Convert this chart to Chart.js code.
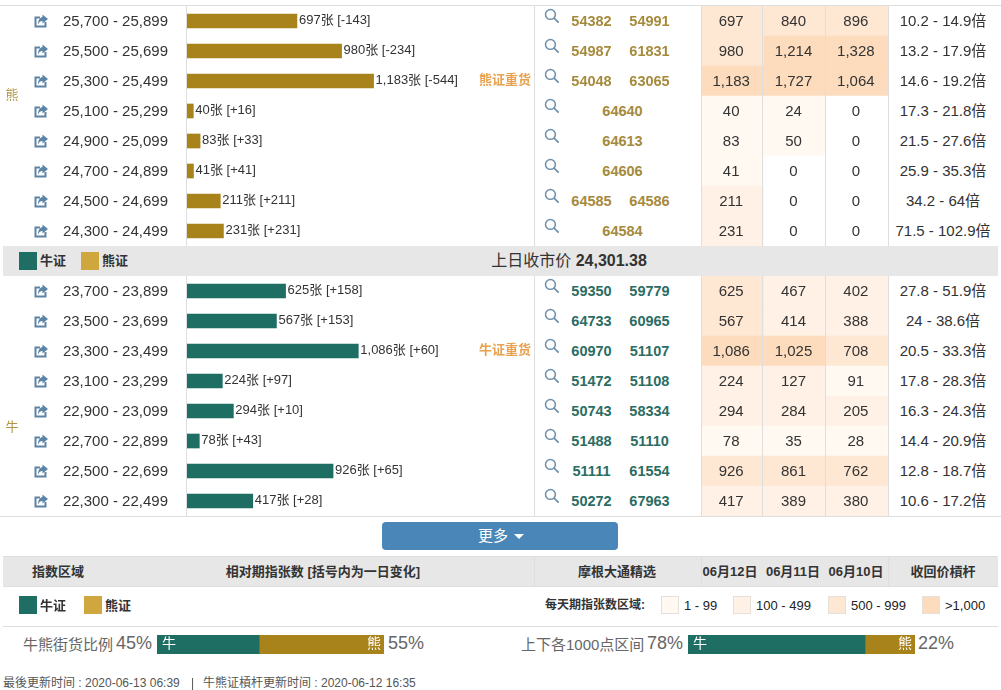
<!DOCTYPE html>
<html lang="zh"><head><meta charset="utf-8">
<script src="https://cdn.jsdelivr.net/npm/chart.js@4/dist/chart.umd.js"></script>
<style>
html,body{margin:0;padding:0;background:#fff;width:1001px;height:690px;overflow:hidden;font-family:"Liberation Sans","Noto Sans CJK SC",sans-serif;color:#333}
#page{position:relative;width:1001px;height:690px;overflow:hidden}
canvas{position:absolute;display:block}
.t{position:absolute;white-space:nowrap;line-height:1}
.b{position:absolute}
svg{position:absolute}
</style></head><body><div id="page">
<canvas id="bars" width="534" height="510" style="left:0;top:6px;width:534px;height:510px"></canvas>
<canvas id="heat" width="187" height="510" style="left:701px;top:6px;width:187px;height:510px"></canvas>
<canvas id="ratioA" width="227" height="19" style="left:157px;top:635px;width:227px;height:19px"></canvas>
<canvas id="ratioB" width="227" height="19" style="left:688px;top:635px;width:227px;height:19px"></canvas>
</div>
<script>
// ---- data ----
const separatorLabel = '上日收市价';
const categories = ['25,700 - 25,899','25,500 - 25,699','25,300 - 25,499','25,100 - 25,299','24,900 - 25,099','24,700 - 24,899','24,500 - 24,699','24,300 - 24,499',separatorLabel,'23,700 - 23,899','23,500 - 23,699','23,300 - 23,499','23,100 - 23,299','22,900 - 23,099','22,700 - 22,899','22,500 - 22,699','22,300 - 22,499'];
const bearCounts = [697,980,1183,40,83,41,211,231,null,null,null,null,null,null,null,null,null];
const bullCounts = [null,null,null,null,null,null,null,null,null,625,567,1086,224,294,78,926,417];
const dayChanges = ['-143','-234','-544','+16','+33','+41','+211','+231',null,'+158','+153','+60','+97','+10','+43','+65','+28'];
const heavyTags = [null,null,'熊证重货',null,null,null,null,null,null,null,null,'牛证重货',null,null,null,null,null];
const warrantCodes = [['54382','54991'],['54987','61831'],['54048','63065'],['64640'],['64613'],['64606'],['64585','64586'],['64584'],null,['59350','59779'],['64733','60965'],['60970','51107'],['51472','51108'],['50743','58334'],['51488','51110'],['51111','61554'],['50272','67963']];
const dayLabels = ['06月12日','06月11日','06月10日'];
const heatJun12 = [697,980,1183,40,83,41,211,231,null,625,567,1086,224,294,78,926,417];
const heatJun11 = [840,1214,1727,24,50,0,0,0,null,467,414,1025,127,284,35,861,389];
const heatJun10 = [896,1328,1064,0,0,0,0,0,null,402,388,708,91,205,28,762,380];
const leverage = ['10.2 - 14.9倍','13.2 - 17.9倍','14.6 - 19.2倍','17.3 - 21.8倍','21.5 - 27.6倍','25.9 - 35.3倍','34.2 - 64倍','71.5 - 102.9倍',null,'27.8 - 51.9倍','24 - 38.6倍','20.5 - 33.3倍','17.8 - 28.3倍','16.3 - 24.3倍','14.4 - 20.9倍','12.8 - 18.7倍','10.6 - 17.2倍'];
const closePrice = '24,301.38';
const streetRatio = [45,55];
const nearRatio = [78,22];
const legendBands = ['1 - 99','100 - 499','500 - 999','>1,000'];
// ---- styles ----
const BULL='#1f6e64', BEAR='#a8821a', BEARKEY='#d0a73f', BULLTXT='#2b6d63', BEARTXT='#a68a3c', ICON='#5c84a6', LINE='#dedede', BAND='#e7e7e7';
const HEAT=['#fff9f2','#fff1e5','#fee7d3','#fddcbd'];
const FONT='"Liberation Sans","Noto Sans CJK SC",sans-serif';
const heatColor=v=>v===null||v===0?'#ffffff':v<100?HEAT[0]:v<500?HEAT[1]:v<1000?HEAT[2]:HEAT[3];
const page=document.getElementById('page');
function box(x,y,w,h,c,extra){const d=document.createElement('div');d.className='b';d.style.cssText=`left:${x}px;top:${y}px;width:${w}px;height:${h}px;background:${c};${extra||''}`;page.appendChild(d);return d;}
function text(s,x,y,size,o){o=o||{};const d=document.createElement('div');d.className='t';d.textContent=s;
 const tr=o.align==='c'?'translate(-50%,-50%)':o.align==='r'?'translate(-100%,-50%)':'translateY(-50%)';
 d.style.cssText=`left:${x}px;top:${y}px;font-size:${size}px;transform:${tr};color:${o.color||'#333'};font-weight:${o.bold?700:400};`;page.appendChild(d);return d;}
const ROW=30, TOP=6, rowMid=i=>TOP+ROW*i+ROW/2;
// ---- bars ----
Chart.defaults.font.family=FONT;
const barLabels={id:'barLabels',afterDatasetsDraw(c){const g=c.ctx,xs=c.scales.x,ys=c.scales.y;g.save();g.textBaseline='middle';
 categories.forEach((_,i)=>{const v=bearCounts[i]??bullCounts[i];if(v==null)return;
  g.font='13px '+FONT;g.fillStyle='#333';g.textAlign='left';
  g.fillText(v.toLocaleString('en-US')+'张 ['+dayChanges[i]+']',xs.getPixelForValue(v)+2,ys.getPixelForValue(i)-1);
  if(heavyTags[i]){g.font='bold 13px '+FONT;g.fillStyle='#e8a24f';g.textAlign='right';g.fillText(heavyTags[i],531,ys.getPixelForValue(i)-1);}
 });g.restore();}};
new Chart('bars',{type:'bar',plugins:[barLabels],data:{labels:categories,datasets:[
 {label:'熊证',data:bearCounts,backgroundColor:BEAR,barThickness:14,stack:'s'},
 {label:'牛证',data:bullCounts,backgroundColor:BULL,barThickness:14,stack:'s'}]},
 options:{indexAxis:'y',responsive:false,animation:false,devicePixelRatio:1,layout:{padding:0},
  plugins:{legend:{display:false},tooltip:{enabled:false}},
  scales:{x:{display:false,min:0,max:2200,stacked:true},
   y:{stacked:true,grid:{display:false,drawTicks:false},border:{display:false},
      afterFit(a){a.width=187;a.paddingTop=0;a.paddingBottom=0;a.paddingLeft=0;a.paddingRight=0;
       if(!a.__nudged){a.__nudged=true;const orig=a._computeLabelItems;
        a._computeLabelItems=function(area){const items=orig.call(this,area);items.forEach(it=>{it.options.translation[1]+=1;});return items;};}},
      ticks:{autoSkip:false,padding:19,color:'#333',font:{size:15},crossAlign:'near',
       callback(v){const l=this.getLabelForValue(v);return l===separatorLabel?'':l;}}}}}});
// ---- heat ----
const heatSeries=[heatJun12,heatJun11,heatJun10];
const heatLabels={id:'heatLabels',afterDatasetsDraw(c){const g=c.ctx,xs=c.scales.x,ys=c.scales.y;g.save();g.textBaseline='middle';g.textAlign='center';g.font='15px '+FONT;g.fillStyle='#333';
 heatSeries.forEach((s,k)=>s.forEach((v,i)=>{if(v===null)return;g.fillText(v.toLocaleString('en-US'),xs.getPixelForValue(k+0.5)-1,ys.getPixelForValue(i)+1);}));g.restore();}};
new Chart('heat',{type:'bar',plugins:[heatLabels],data:{labels:categories,datasets:heatSeries.map((s,k)=>({label:dayLabels[k],data:s.map(v=>v===null?null:1),stack:'h',
  barPercentage:1,categoryPercentage:1,backgroundColor:ctx=>heatColor(s[ctx.dataIndex])}))},
 options:{indexAxis:'y',responsive:false,animation:false,devicePixelRatio:1,layout:{padding:0},
  plugins:{legend:{display:false},tooltip:{enabled:false}},
  scales:{x:{display:false,min:0,max:3,stacked:true},y:{display:false,stacked:true}}}});
// ---- ratio bars ----
function ratio(id,vals){const lab={id:'lab',afterDatasetsDraw(c){const g=c.ctx,xs=c.scales.x;g.save();g.font='14px '+FONT;g.fillStyle='#fff';g.textBaseline='middle';
  g.textAlign='left';g.fillText('牛',xs.getPixelForValue(0)+5,c.height/2);g.textAlign='right';g.fillText('熊',xs.getPixelForValue(vals[0]+vals[1])-3,c.height/2);g.restore();}};
 new Chart(id,{type:'bar',plugins:[lab],data:{labels:[''],datasets:[
  {label:'牛',data:[vals[0]],backgroundColor:BULL,stack:'r',barPercentage:1,categoryPercentage:1},
  {label:'熊',data:[vals[1]],backgroundColor:BEAR,stack:'r',barPercentage:1,categoryPercentage:1}]},
  options:{indexAxis:'y',responsive:false,animation:false,devicePixelRatio:1,layout:{padding:0},
   plugins:{legend:{display:false},tooltip:{enabled:false}},
   scales:{x:{display:false,min:0,max:vals[0]+vals[1],stacked:true},y:{display:false,stacked:true}}}});}
ratio('ratioA',streetRatio);ratio('ratioB',nearRatio);
// ---- table furniture ----
box(0,5,1001,1,LINE);box(0,516,1001,1,LINE);
[186,534,701,762,825,888].forEach(x=>{box(x,6,1,240,LINE);box(x,276,1,240,LINE);});
box(3,246,995,30,BAND);
function legendPair(x1,t1,x2,t2,sy,cy){box(x1,sy,18,18,BULL);text(t1,x1+21,cy,13,{bold:true});box(x2,sy,18,18,BEARKEY);text(t2,x2+21,cy,13,{bold:true});}
legendPair(19,'牛证',81,'熊证',252,260);
const sep=text(separatorLabel+' ',569,261,16,{align:'c'});const sv=document.createElement('b');sv.textContent=closePrice;sep.appendChild(sv);
text('熊',12,94,13,{align:'c',color:'#b29545'});
text('牛',12,426,13,{align:'c',color:'#b29545'});
const linkSvg=`<path d="M11.5 8v4.5h-10v-9h4.5" fill="none" stroke="${ICON}" stroke-width="2"/><path d="M8.5 0.5l5.5 4.5-5.5 4.5V7C6.5 7 5 8 4 10.5 4 6 6 3.5 8.5 3z" fill="${ICON}"/>`;
const lensSvg=`<circle cx="6" cy="6" r="4.6" fill="none" stroke="#6e8fab" stroke-width="1.4"/><path d="M9.4 9.4l4.3 4.3" stroke="#6e8fab" stroke-width="1.6"/>`;
function icon(markup,x,y,s){const n=document.createElementNS('http://www.w3.org/2000/svg','svg');n.setAttribute('viewBox','0 0 14 14');n.setAttribute('width',s);n.setAttribute('height',s);n.style.left=x+'px';n.style.top=y+'px';n.innerHTML=markup;page.appendChild(n);}
categories.forEach((c,i)=>{if(c===separatorLabel)return;const m=rowMid(i);
 icon(linkSvg,34,m-7,14);icon(lensSvg,544,m-13,15);
 const col=bearCounts[i]!=null?BEARTXT:BULLTXT,cs=warrantCodes[i];
 if(cs.length===2){text(cs[0],591.5,m,14.5,{align:'c',bold:true,color:col});text(cs[1],649.5,m,14.5,{align:'c',bold:true,color:col});}
 else text(cs[0],622.5,m,14.5,{align:'c',bold:true,color:col});
 text(leverage[i],943,m-1,15,{align:'c'});
});
// button
const btn=box(382,522,236,28,'#4a86b8','border-radius:4px;');
text('更多',493,535,15,{align:'c',color:'#fff'});
box(514,534,0,0,'transparent','border-left:5px solid transparent;border-right:5px solid transparent;border-top:5px solid #fff;background:none;');
// header
box(3,557,995,29,BAND);box(3,556,995,1,LINE);box(3,586,995,1,LINE);box(534,557,1,29,LINE);box(701,557,1,29,LINE);box(888,557,1,29,LINE);
const hy=571;
text('指数区域',58,hy,13,{align:'c',bold:true});
text('相对期指张数 [括号内为一日变化]',323,hy,13,{align:'c',bold:true});
text('摩根大通精选',617,hy,13,{align:'c',bold:true});
[730,793,856].forEach((x,k)=>text(dayLabels[k],x,hy,13,{align:'c',bold:true}));
text('收回价槓杆',943,hy,13,{align:'c',bold:true});
// legend row
legendPair(19,'牛证',84,'熊证',596,605);
text('每天期指张数区域:',545,605,12,{bold:true});
[[661,684],[733,756],[828,851],[922,945]].forEach((p,k)=>{box(p[0],596,18,18,HEAT[k],'box-sizing:border-box;border:1px solid #e6e0da;');text(legendBands[k],p[1],605,13,{color:'#222'});});
box(3,626,995,1,LINE);
// ratio rows
const G='#666';
text('牛熊街货比例',23,644,15,{color:G});text(streetRatio[0]+'%',116,643,18,{color:G});text(streetRatio[1]+'%',388,643,18,{color:G});
text('上下各1000点区间',521,644,15,{color:G});text(nearRatio[0]+'%',647,643,18,{color:G});text(nearRatio[1]+'%',918,643,18,{color:G});
// footer
text('最後更新时间 : 2020-06-13 06:39',3,683,12,{color:'#555'});
text('|',191,683,12,{color:'#555'});
text('牛熊证槓杆更新时间 : 2020-06-12 16:35',203,683,12,{color:'#555'});
</script></body></html>
